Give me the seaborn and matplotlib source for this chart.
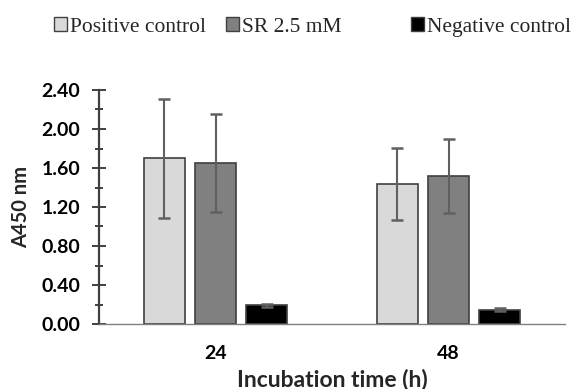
import matplotlib
matplotlib.use("Agg")
import matplotlib.pyplot as plt
import seaborn as sns
import pandas as pd
from matplotlib.patches import Patch
from matplotlib.ticker import MultipleLocator, FormatStrFormatter

times = ["24", "48"]
groups = ["Positive control", "SR 2.5 mM", "Negative control"]
positive = [1.70, 1.44]
positive_err = [0.61, 0.37]
sr = [1.65, 1.52]
sr_err = [0.50, 0.38]
negative = [0.19, 0.145]
negative_err = [0.02, 0.015]
colors = ["#d9d9d9", "#808080", "#000000"]

rows = []
for g, vals, errs in zip(groups, [positive, sr, negative], [positive_err, sr_err, negative_err]):
    for t, v, e in zip(times, vals, errs):
        rows.append({"time": t, "group": g, "value": v, "err": e})
df = pd.DataFrame(rows)

sns.set_style("white")
fig = plt.figure(figsize=(5.76, 3.89), dpi=100)
ax = fig.add_axes([99/576, 65/389, 466/576, 234/389])

sns.barplot(data=df, x="time", y="value", hue="group", order=times, hue_order=groups,
            palette=colors, width=0.657, gap=0.2, errorbar=None,
            edgecolor="#404040", linewidth=1.2, ax=ax, legend=False)

for gi, g in enumerate(groups):
    sub = df[df.group == g]
    bars = ax.containers[gi]
    for bar, (_, r) in zip(bars, sub.iterrows()):
        cx = bar.get_x() + bar.get_width() / 2
        ax.errorbar(cx, r["value"], yerr=r["err"], fmt="none", ecolor="#606060",
                    elinewidth=1.5, capsize=4, capthick=1.8, zorder=5)

ax.set_ylim(0, 2.4)
ax.set_xlim(-0.5, 1.5)
ax.yaxis.set_major_locator(MultipleLocator(0.4))
ax.yaxis.set_minor_locator(MultipleLocator(0.2))
ax.yaxis.set_major_formatter(FormatStrFormatter("%.2f"))

for s in ["top", "right"]:
    ax.spines[s].set_visible(False)
ax.spines["left"].set_color("#404040")
ax.spines["left"].set_linewidth(1.6)
ax.spines["bottom"].set_color("#808080")
ax.spines["bottom"].set_linewidth(1.0)

ax.tick_params(axis="y", which="both", left=True)
ax.tick_params(axis="y", which="major", direction="inout", length=10, width=1.4,
               color="#404040", pad=8.5, labelsize=14)
ax.tick_params(axis="y", which="minor", direction="inout", length=5.5, width=1.4,
               color="#404040")
ax.tick_params(axis="x", length=0, pad=15, labelsize=14)
for lab in ax.get_yticklabels() + ax.get_xticklabels():
    lab.set_fontfamily("Lato")
    lab.set_fontweight("bold")
    lab.set_color("black")

ax.set_ylabel("A450 nm", fontfamily="Lato", fontweight="bold", fontsize=14.5)
ax.yaxis.label.set_va("center")
ax.yaxis.set_label_coords(-(99 - 21) / 466, 0.5)
ax.set_xlabel("Incubation time (h)", fontfamily="Lato", fontweight="bold", fontsize=16.5)
ax.xaxis.label.set_va("center")
ax.xaxis.set_label_coords(0.5, -(379 - 324) / 234)

legfont = {"family": "Liberation Serif", "size": 15.5}
h1 = [Patch(facecolor=colors[0], edgecolor="#404040", linewidth=1.0),
      Patch(facecolor=colors[1], edgecolor="#404040", linewidth=1.0)]
h2 = [Patch(facecolor=colors[2], edgecolor="#404040", linewidth=1.0)]
common = dict(frameon=False, prop=legfont, handlelength=0.6, handleheight=0.6,
              handletextpad=0.15, borderpad=0, borderaxespad=0, loc="center left")
fig.legend(h1, groups[:2], ncol=2, columnspacing=0.93,
           bbox_to_anchor=(54/576, 1 - 27/389), **common)
fig.legend(h2, groups[2:], ncol=1,
           bbox_to_anchor=(411/576, 1 - 27/389), **common)

fig.savefig("out.png", dpi=100)
